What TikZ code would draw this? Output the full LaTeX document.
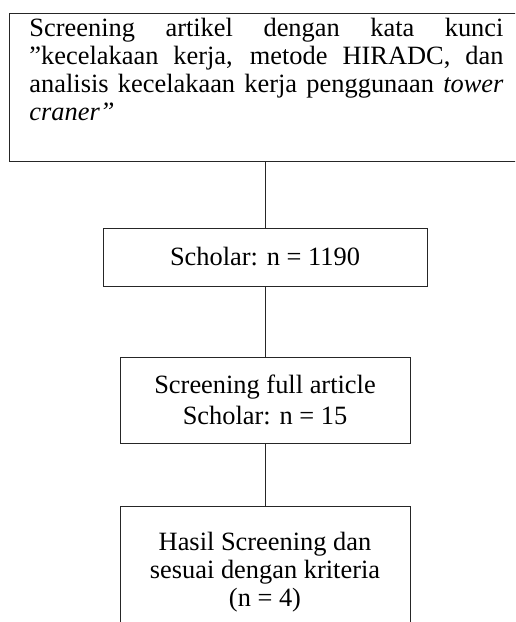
\documentclass[tikz,border=0pt]{standalone}
\usepackage{fontspec}
\setmainfont{Liberation Serif}
\newcommand\jline[1]{\makebox[355.5pt][s]{\spaceskip=0pt\xspaceskip=0pt\relax #1}}
\begin{document}
\begin{tikzpicture}[x=0.75pt,y=-0.75pt,
  box/.style={draw=black!85, line width=0.7pt, rectangle, inner sep=0pt, align=center,
    font=\fontsize{19.8pt}{21pt}\selectfont},
  link/.style={draw=black!85, line width=0.7pt}]
\useasboundingbox (0,0) rectangle (515,622);
\clip (0,0) rectangle (515,622);
\node[draw=black!85, line width=0.7pt, rectangle, anchor=north west, inner xsep=15pt, inner ysep=0pt,
      font=\fontsize{19.8pt}{21pt}\selectfont] (a) at (9,13)
  {\vbox{\baselineskip=21pt\lineskiplimit=-100pt
   \hbox{\rule{0pt}{17.25pt}\jline{Screening artikel dengan kata kunci}}
   \hbox{\jline{”kecelakaan kerja, metode HIRADC, dan}}
   \hbox{\jline{analisis kecelakaan kerja penggunaan \textit{tower}}}
   \hbox{\textit{craner”}\rule[-30.75pt]{0pt}{30.75pt}}}};
\node[box, minimum width=243pt, minimum height=43.5pt] (b) at (265,257) {Scholar: n = 1190};
\node[box, minimum width=217.5pt, minimum height=64.5pt] (c) at (265,400) {Screening full article\\[2pt]Scholar: n = 15};
\node[box, minimum width=217.5pt, minimum height=99pt] (d) at (265,572) {Hasil Screening dan\\sesuai dengan kriteria\\(n = 4)};
\draw[link] (b.north |- a.south) -- (b.north);
\draw[link] (b.south) -- (c.north);
\draw[link] (c.south) -- (d.north);
\end{tikzpicture}
\end{document}
